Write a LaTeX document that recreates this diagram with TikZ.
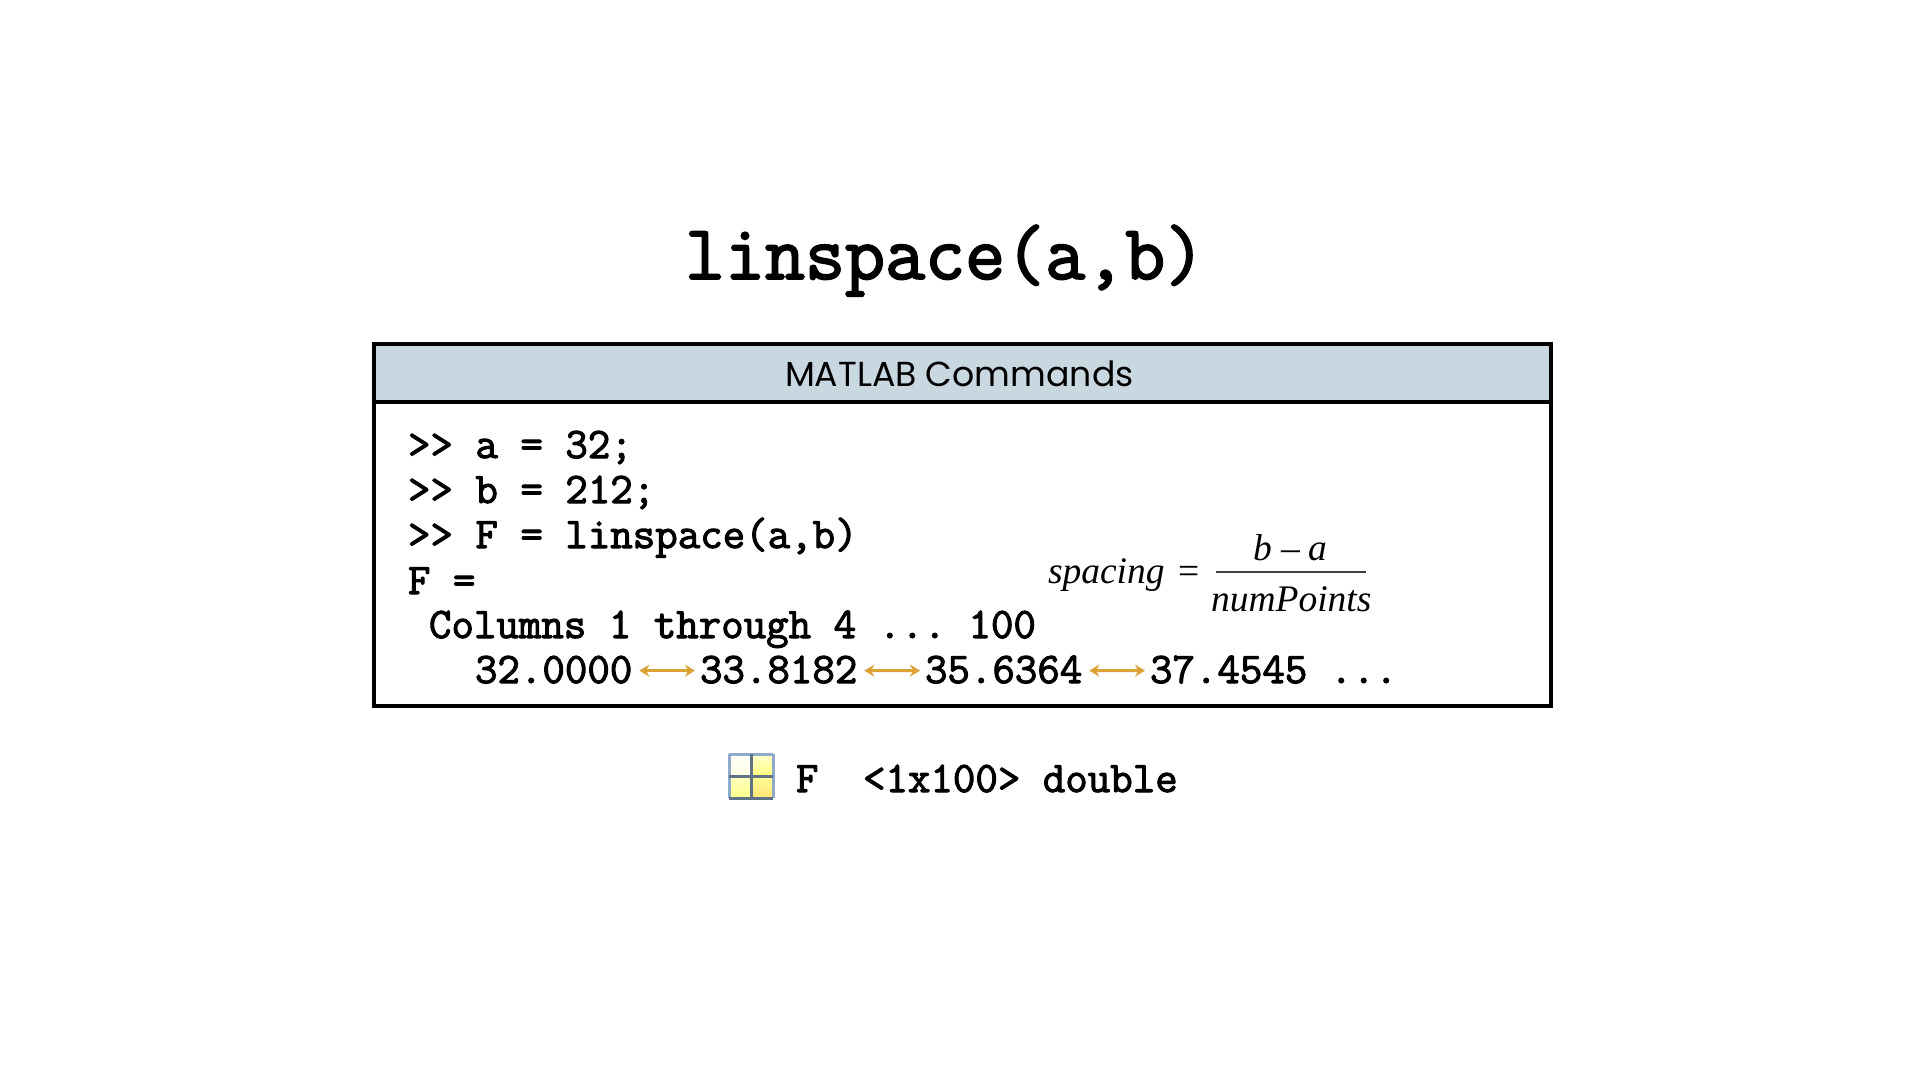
\documentclass[tikz,border=0pt]{standalone}
\usepackage{fontspec}
\newfontfamily\headfont{Poppins}
\newfontfamily\mathserif{Liberation Serif}
\newfontfamily\codefont{Latin Modern Mono}[FakeBold=2.4]
\usetikzlibrary{arrows.meta}
\definecolor{headbg}{HTML}{C9D7E1}
\definecolor{gold}{HTML}{DBA235}
\definecolor{gridline}{HTML}{5F7286}
\definecolor{gridblue}{HTML}{8FAACB}
\tikzset{
 txt/.style={anchor=base west,inner sep=0pt,outer sep=0pt},
 code/.style={txt,font=\codefont\frenchspacing\fontsize{43.65}{46}\selectfont},
 formula/.style={txt,font=\mathserif\itshape\fontsize{37.5}{40}\selectfont},
 gap/.style={{Stealth[length=10pt,width=12pt]}-{Stealth[length=10pt,width=12pt]},gold,line width=3pt,shorten >=5pt,shorten <=7pt},
 frame/.style={draw=black,line width=4pt,inner sep=0pt,outer sep=0pt,anchor=north west},
 cell/.style={anchor=north west,inner sep=0pt,outer sep=0pt,minimum width=22pt,minimum height=22pt}
}
\begin{document}
\begin{tikzpicture}[x=1pt,y=-1pt]
\useasboundingbox (0,0) rectangle (1920,1079);
\fill[white] (0,0) rectangle (1920,1079);
\node[txt,font=\codefont\fontsize{77.7}{82}\selectfont] (title) at (685,279) {linspace(a,b)};
\node[frame,minimum width=1177pt,minimum height=362pt] (panel) at (374,343.5) {};
\node[frame,fill=headbg,minimum width=1177pt,minimum height=58.5pt] (head) at (374,343.5) {};
\node[txt,font=\headfont\fontsize{34.7}{38}\selectfont] (headtext) at (785,386) {MATLAB Commands};
\node[code] (l1) at (408,458) {>> a = 32;};
\node[code] (l2) at (408,503) {>> b = 212;};
\node[code] (l3) at (408,548) {>> F = linspace(a,b)};
\node[code] (l4) at (408,594) {F =};
\node[code] (l5) at (429,638) {Columns 1 through 4 ... 100};
\node[code] (n1) at (475,683) {32.0000};
\node[code] (n2) at (700,683) {33.8182};
\node[code] (n3) at (925,683) {35.6364};
\node[code] (n4) at (1150,683) {37.4545};
\node[code] (dots) at (1330,683) {...};
\draw[gap] ([yshift=-1pt]n1.east) -- ([yshift=-1pt]n2.west);
\draw[gap] ([yshift=-1pt]n2.east) -- ([yshift=-1pt]n3.west);
\draw[gap] ([yshift=-1pt]n3.east) -- ([yshift=-1pt]n4.west);
\node[formula] (sp) at (1048,583) {spacing};
\node[txt,font=\mathserif\fontsize{37.5}{40}\selectfont] (eq) at (1178,583) {=};
\node[formula] (num) at (1253,560) {b\hspace{0.25em}{\upshape –}\hspace{0.22em}a};
\node[formula] (den) at (1211,611) {numPoints};
\coordinate (ruleL) at (1216,572);
\coordinate (ruleR) at (1366,572);
\draw[line width=1.6pt,black!75] (ruleL) -- (ruleR);
% workspace icon
\node[cell,top color=white,bottom color=yellow!12] (c1) at (729,754) {};
\node[cell,top color=yellow!20,bottom color=yellow!50] (c2) at (751,754) {};
\node[cell,top color=yellow!25,bottom color=yellow!45] (c3) at (729,776) {};
\node[cell,top color=yellow!40,bottom color=orange!40!yellow!55] (c4) at (751,776) {};
\draw[gridblue,line width=3pt] (c1.north west) -- (c2.north east);
\draw[gridblue,line width=3pt] (c3.south west) -- (c1.north west);
\draw[gridblue,line width=3pt] (c2.north east) -- (c4.south east);
\draw[gridline,line width=3pt] (c3.south west) -- (c4.south east);
\draw[gridline,line width=3pt] (c1.north east) -- (c3.south east);
\draw[gridline,line width=3pt] (c1.south west) -- (c2.south east);
\node[code] (vF) at (796,792) {F};
\node[code] (vS) at (863,792) {<1x100> double};
\end{tikzpicture}
\end{document}
